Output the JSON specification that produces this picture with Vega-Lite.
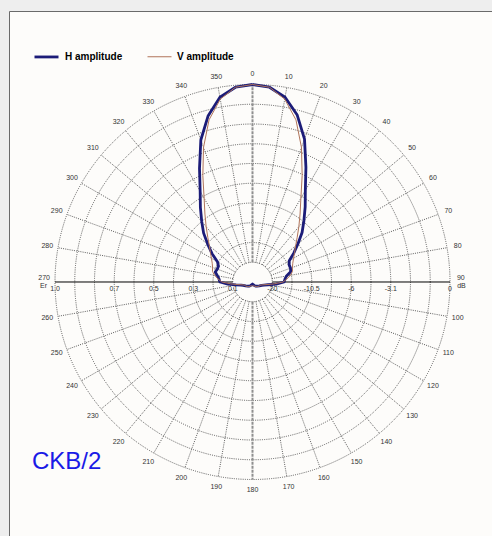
{
  "$schema": "https://vega.github.io/schema/vega-lite/v6.json",
  "width": 483,
  "height": 525,
  "autosize": {"type": "none"},
  "padding": {"left": 9, "top": 11, "right": 0, "bottom": 0},
  "background": "#eeeeee",
  "config": {
    "view": {"fill": "#fdfcfa", "stroke": "#6a6a6a", "strokeWidth": 1},
    "text": {"font": "Liberation Sans"}
  },
  "datasets": {
    "rings": [{"amp": 0.1}, {"amp": 0.2}, {"amp": 0.3}, {"amp": 0.4}, {"amp": 0.5}, {"amp": 0.6}, {"amp": 0.7}, {"amp": 0.8}, {"amp": 0.9}, {"amp": 1.0}],
    "spokes": [{"angle": 0}, {"angle": 10}, {"angle": 20}, {"angle": 30}, {"angle": 40}, {"angle": 50}, {"angle": 60}, {"angle": 70}, {"angle": 80}, {"angle": 90}, {"angle": 100}, {"angle": 110}, {"angle": 120}, {"angle": 130}, {"angle": 140}, {"angle": 150}, {"angle": 160}, {"angle": 170}, {"angle": 180}, {"angle": 190}, {"angle": 200}, {"angle": 210}, {"angle": 220}, {"angle": 230}, {"angle": 240}, {"angle": 250}, {"angle": 260}, {"angle": 270}, {"angle": 280}, {"angle": 290}, {"angle": 300}, {"angle": 310}, {"angle": 320}, {"angle": 330}, {"angle": 340}, {"angle": 350}],
    "radlabels": [
      {"label": "1.0", "pos": -1.0}, {"label": "0.7", "pos": -0.7}, {"label": "0.5", "pos": -0.5}, {"label": "0.3", "pos": -0.3}, {"label": "0.1", "pos": -0.1},
      {"label": "-20", "pos": 0.1}, {"label": "-10.5", "pos": 0.3}, {"label": "-6", "pos": 0.5}, {"label": "-3.1", "pos": 0.7}, {"label": "0", "pos": 1.0}
    ],
    "units": [{"unit": "Er", "side": -1}, {"unit": "dB", "side": 1}],
    "pattern": [
      {"series": "H amplitude", "angle": 0, "amp": 1.0},
      {"series": "H amplitude", "angle": 5, "amp": 0.99},
      {"series": "H amplitude", "angle": 10, "amp": 0.95},
      {"series": "H amplitude", "angle": 15, "amp": 0.875},
      {"series": "H amplitude", "angle": 20, "amp": 0.77},
      {"series": "H amplitude", "angle": 25, "amp": 0.64},
      {"series": "H amplitude", "angle": 30, "amp": 0.535},
      {"series": "H amplitude", "angle": 35, "amp": 0.465},
      {"series": "H amplitude", "angle": 40, "amp": 0.405},
      {"series": "H amplitude", "angle": 45, "amp": 0.355},
      {"series": "H amplitude", "angle": 50, "amp": 0.30},
      {"series": "H amplitude", "angle": 55, "amp": 0.255},
      {"series": "H amplitude", "angle": 60, "amp": 0.215},
      {"series": "H amplitude", "angle": 65, "amp": 0.205},
      {"series": "H amplitude", "angle": 70, "amp": 0.205},
      {"series": "H amplitude", "angle": 75, "amp": 0.20},
      {"series": "H amplitude", "angle": 80, "amp": 0.175},
      {"series": "H amplitude", "angle": 85, "amp": 0.165},
      {"series": "H amplitude", "angle": 90, "amp": 0.16},
      {"series": "H amplitude", "angle": 95, "amp": 0.12},
      {"series": "H amplitude", "angle": 100, "amp": 0.08},
      {"series": "H amplitude", "angle": 105, "amp": 0.06},
      {"series": "H amplitude", "angle": 110, "amp": 0.05},
      {"series": "H amplitude", "angle": 120, "amp": 0.04},
      {"series": "H amplitude", "angle": 130, "amp": 0.032},
      {"series": "H amplitude", "angle": 140, "amp": 0.028},
      {"series": "H amplitude", "angle": 150, "amp": 0.022},
      {"series": "H amplitude", "angle": 160, "amp": 0.015},
      {"series": "H amplitude", "angle": 170, "amp": 0.012},
      {"series": "H amplitude", "angle": 180, "amp": 0.01},
      {"series": "H amplitude", "angle": 190, "amp": 0.012},
      {"series": "H amplitude", "angle": 200, "amp": 0.015},
      {"series": "H amplitude", "angle": 210, "amp": 0.022},
      {"series": "H amplitude", "angle": 220, "amp": 0.028},
      {"series": "H amplitude", "angle": 230, "amp": 0.032},
      {"series": "H amplitude", "angle": 240, "amp": 0.04},
      {"series": "H amplitude", "angle": 250, "amp": 0.05},
      {"series": "H amplitude", "angle": 255, "amp": 0.06},
      {"series": "H amplitude", "angle": 260, "amp": 0.085},
      {"series": "H amplitude", "angle": 265, "amp": 0.125},
      {"series": "H amplitude", "angle": 270, "amp": 0.165},
      {"series": "H amplitude", "angle": 275, "amp": 0.17},
      {"series": "H amplitude", "angle": 280, "amp": 0.18},
      {"series": "H amplitude", "angle": 285, "amp": 0.195},
      {"series": "H amplitude", "angle": 290, "amp": 0.19},
      {"series": "H amplitude", "angle": 295, "amp": 0.19},
      {"series": "H amplitude", "angle": 300, "amp": 0.205},
      {"series": "H amplitude", "angle": 305, "amp": 0.25},
      {"series": "H amplitude", "angle": 310, "amp": 0.295},
      {"series": "H amplitude", "angle": 315, "amp": 0.35},
      {"series": "H amplitude", "angle": 320, "amp": 0.40},
      {"series": "H amplitude", "angle": 325, "amp": 0.46},
      {"series": "H amplitude", "angle": 330, "amp": 0.53},
      {"series": "H amplitude", "angle": 335, "amp": 0.635},
      {"series": "H amplitude", "angle": 340, "amp": 0.765},
      {"series": "H amplitude", "angle": 345, "amp": 0.87},
      {"series": "H amplitude", "angle": 350, "amp": 0.95},
      {"series": "H amplitude", "angle": 355, "amp": 0.99},
      {"series": "H amplitude", "angle": 360, "amp": 1.0},
      {"series": "V amplitude", "angle": 0, "amp": 1.0},
      {"series": "V amplitude", "angle": 5, "amp": 0.99},
      {"series": "V amplitude", "angle": 10, "amp": 0.94},
      {"series": "V amplitude", "angle": 15, "amp": 0.85},
      {"series": "V amplitude", "angle": 20, "amp": 0.725},
      {"series": "V amplitude", "angle": 25, "amp": 0.595},
      {"series": "V amplitude", "angle": 30, "amp": 0.49},
      {"series": "V amplitude", "angle": 35, "amp": 0.42},
      {"series": "V amplitude", "angle": 40, "amp": 0.365},
      {"series": "V amplitude", "angle": 45, "amp": 0.32},
      {"series": "V amplitude", "angle": 50, "amp": 0.285},
      {"series": "V amplitude", "angle": 55, "amp": 0.26},
      {"series": "V amplitude", "angle": 60, "amp": 0.24},
      {"series": "V amplitude", "angle": 65, "amp": 0.225},
      {"series": "V amplitude", "angle": 70, "amp": 0.215},
      {"series": "V amplitude", "angle": 75, "amp": 0.21},
      {"series": "V amplitude", "angle": 80, "amp": 0.195},
      {"series": "V amplitude", "angle": 85, "amp": 0.175},
      {"series": "V amplitude", "angle": 90, "amp": 0.155},
      {"series": "V amplitude", "angle": 95, "amp": 0.11},
      {"series": "V amplitude", "angle": 100, "amp": 0.075},
      {"series": "V amplitude", "angle": 105, "amp": 0.055},
      {"series": "V amplitude", "angle": 110, "amp": 0.045},
      {"series": "V amplitude", "angle": 120, "amp": 0.04},
      {"series": "V amplitude", "angle": 130, "amp": 0.035},
      {"series": "V amplitude", "angle": 140, "amp": 0.03},
      {"series": "V amplitude", "angle": 150, "amp": 0.025},
      {"series": "V amplitude", "angle": 160, "amp": 0.02},
      {"series": "V amplitude", "angle": 170, "amp": 0.02},
      {"series": "V amplitude", "angle": 180, "amp": 0.02},
      {"series": "V amplitude", "angle": 190, "amp": 0.02},
      {"series": "V amplitude", "angle": 200, "amp": 0.02},
      {"series": "V amplitude", "angle": 210, "amp": 0.025},
      {"series": "V amplitude", "angle": 220, "amp": 0.03},
      {"series": "V amplitude", "angle": 230, "amp": 0.035},
      {"series": "V amplitude", "angle": 240, "amp": 0.04},
      {"series": "V amplitude", "angle": 250, "amp": 0.045},
      {"series": "V amplitude", "angle": 255, "amp": 0.055},
      {"series": "V amplitude", "angle": 260, "amp": 0.075},
      {"series": "V amplitude", "angle": 265, "amp": 0.11},
      {"series": "V amplitude", "angle": 270, "amp": 0.155},
      {"series": "V amplitude", "angle": 275, "amp": 0.175},
      {"series": "V amplitude", "angle": 280, "amp": 0.195},
      {"series": "V amplitude", "angle": 285, "amp": 0.21},
      {"series": "V amplitude", "angle": 290, "amp": 0.215},
      {"series": "V amplitude", "angle": 295, "amp": 0.225},
      {"series": "V amplitude", "angle": 300, "amp": 0.24},
      {"series": "V amplitude", "angle": 305, "amp": 0.26},
      {"series": "V amplitude", "angle": 310, "amp": 0.285},
      {"series": "V amplitude", "angle": 315, "amp": 0.32},
      {"series": "V amplitude", "angle": 320, "amp": 0.365},
      {"series": "V amplitude", "angle": 325, "amp": 0.42},
      {"series": "V amplitude", "angle": 330, "amp": 0.49},
      {"series": "V amplitude", "angle": 335, "amp": 0.595},
      {"series": "V amplitude", "angle": 340, "amp": 0.725},
      {"series": "V amplitude", "angle": 345, "amp": 0.85},
      {"series": "V amplitude", "angle": 350, "amp": 0.94},
      {"series": "V amplitude", "angle": 355, "amp": 0.99},
      {"series": "V amplitude", "angle": 360, "amp": 1.0}
    ],
    "caption": [{"name": "CKB/2"}]
  },
  "layer": [
    {
      "data": {"name": "rings"},
      "mark": {"type": "point", "shape": "circle", "filled": false, "stroke": "#4a4a4a", "strokeWidth": 0.9, "strokeDash": [1, 1.2], "opacity": 1},
      "encoding": {
        "x": {"datum": 0, "type": "quantitative", "scale": {"domain": [-1.23291, 1.21266], "nice": false, "zero": false}, "axis": null},
        "y": {"datum": 0, "type": "quantitative", "scale": {"domain": [-1.28608, 1.37215], "nice": false, "zero": false}, "axis": null},
        "size": {"field": "amp", "type": "quantitative", "scale": {"type": "pow", "exponent": 2, "domain": [0, 1], "range": [0, 156025]}, "legend": null}
      }
    },
    {
      "data": {"name": "spokes"},
      "transform": [
        {"filter": "datum.angle % 90 != 0"},
        {"calculate": "0.1*sin(datum.angle*PI/180)", "as": "x1"},
        {"calculate": "0.1*cos(datum.angle*PI/180)", "as": "y1"},
        {"calculate": "sin(datum.angle*PI/180)", "as": "x2"},
        {"calculate": "cos(datum.angle*PI/180)", "as": "y2"}
      ],
      "mark": {"type": "rule", "stroke": "#4a4a4a", "strokeWidth": 0.9, "strokeDash": [1, 1.2]},
      "encoding": {
        "x": {"field": "x1", "type": "quantitative", "scale": {"domain": [-1.23291, 1.21266], "nice": false, "zero": false}, "axis": null},
        "y": {"field": "y1", "type": "quantitative", "scale": {"domain": [-1.28608, 1.37215], "nice": false, "zero": false}, "axis": null},
        "x2": {"field": "x2"},
        "y2": {"field": "y2"}
      }
    },
    {
      "data": {"name": "spokes"},
      "transform": [
        {"filter": "datum.angle == 0 || datum.angle == 180"},
        {"calculate": "0.1*sin(datum.angle*PI/180)", "as": "x1"},
        {"calculate": "0.1*cos(datum.angle*PI/180)", "as": "y1"},
        {"calculate": "sin(datum.angle*PI/180)", "as": "x2"},
        {"calculate": "cos(datum.angle*PI/180)", "as": "y2"}
      ],
      "mark": {"type": "rule", "stroke": "#8f8f8f", "strokeWidth": 2, "strokeDash": [3, 1]},
      "encoding": {
        "x": {"field": "x1", "type": "quantitative", "scale": {"domain": [-1.23291, 1.21266], "nice": false, "zero": false}, "axis": null},
        "y": {"field": "y1", "type": "quantitative", "scale": {"domain": [-1.28608, 1.37215], "nice": false, "zero": false}, "axis": null},
        "x2": {"field": "x2"},
        "y2": {"field": "y2"}
      }
    },
    {
      "data": {"name": "spokes"},
      "transform": [
        {"filter": "datum.angle == 90 || datum.angle == 270"},
        {"calculate": "0.1*sin(datum.angle*PI/180)", "as": "x1"},
        {"calculate": "sin(datum.angle*PI/180)", "as": "x2"}
      ],
      "mark": {"type": "rule", "stroke": "#000000", "strokeWidth": 1},
      "encoding": {
        "x": {"field": "x1", "type": "quantitative", "scale": {"domain": [-1.23291, 1.21266], "nice": false, "zero": false}, "axis": null},
        "y": {"datum": 0, "type": "quantitative", "scale": {"domain": [-1.28608, 1.37215], "nice": false, "zero": false}, "axis": null},
        "x2": {"field": "x2"}
      }
    },
    {
      "data": {"name": "spokes"},
      "transform": [
        {"filter": "datum.angle != 90 && datum.angle != 270"},
        {"calculate": "1.055*sin(datum.angle*PI/180)", "as": "lx"},
        {"calculate": "1.055*cos(datum.angle*PI/180)", "as": "ly"}
      ],
      "mark": {"type": "text", "fontSize": 7, "fill": "#333333", "align": "center", "baseline": "middle"},
      "encoding": {
        "x": {"field": "lx", "type": "quantitative", "scale": {"domain": [-1.23291, 1.21266], "nice": false, "zero": false}, "axis": null},
        "y": {"field": "ly", "type": "quantitative", "scale": {"domain": [-1.28608, 1.37215], "nice": false, "zero": false}, "axis": null},
        "text": {"field": "angle", "type": "quantitative"}
      }
    },
    {
      "data": {"name": "spokes"},
      "transform": [
        {"filter": "datum.angle == 90 || datum.angle == 270"},
        {"calculate": "1.055*sin(datum.angle*PI/180)", "as": "lx"}
      ],
      "mark": {"type": "text", "fontSize": 7, "fill": "#333333", "align": "center", "baseline": "middle", "dy": -4},
      "encoding": {
        "x": {"field": "lx", "type": "quantitative", "scale": {"domain": [-1.23291, 1.21266], "nice": false, "zero": false}, "axis": null},
        "y": {"datum": 0, "type": "quantitative", "scale": {"domain": [-1.28608, 1.37215], "nice": false, "zero": false}, "axis": null},
        "text": {"field": "angle", "type": "quantitative"}
      }
    },
    {
      "data": {"name": "units"},
      "transform": [{"calculate": "1.058*datum.side", "as": "lx"}],
      "mark": {"type": "text", "fontSize": 7, "fill": "#333333", "align": "center", "baseline": "middle", "dy": 4},
      "encoding": {
        "x": {"field": "lx", "type": "quantitative", "scale": {"domain": [-1.23291, 1.21266], "nice": false, "zero": false}, "axis": null},
        "y": {"datum": 0, "type": "quantitative", "scale": {"domain": [-1.28608, 1.37215], "nice": false, "zero": false}, "axis": null},
        "text": {"field": "unit"}
      }
    },
    {
      "data": {"name": "radlabels"},
      "mark": {"type": "text", "fontSize": 7, "fill": "#333333", "align": "center", "baseline": "middle", "dy": 7},
      "encoding": {
        "x": {"field": "pos", "type": "quantitative", "scale": {"domain": [-1.23291, 1.21266], "nice": false, "zero": false}, "axis": null},
        "y": {"datum": 0, "type": "quantitative", "scale": {"domain": [-1.28608, 1.37215], "nice": false, "zero": false}, "axis": null},
        "text": {"field": "label"}
      }
    },
    {
      "data": {"name": "pattern"},
      "transform": [
        {"calculate": "datum.amp*sin(datum.angle*PI/180)", "as": "px"},
        {"calculate": "datum.amp*cos(datum.angle*PI/180)", "as": "py"}
      ],
      "mark": {"type": "line", "strokeJoin": "round"},
      "encoding": {
        "x": {"field": "px", "type": "quantitative", "scale": {"domain": [-1.23291, 1.21266], "nice": false, "zero": false}, "axis": null},
        "y": {"field": "py", "type": "quantitative", "scale": {"domain": [-1.28608, 1.37215], "nice": false, "zero": false}, "axis": null},
        "order": {"field": "angle", "type": "quantitative"},
        "color": {"field": "series", "type": "nominal", "scale": {"domain": ["H amplitude", "V amplitude"], "range": ["#1c1c78", "#b0745a"]},
          "legend": {"orient": "none", "legendX": 24, "legendY": 32, "direction": "horizontal", "title": null, "labelFont": "Liberation Sans", "labelFontSize": 10, "labelFontWeight": "bold", "labelColor": "#000000", "symbolType": "stroke", "symbolSize": 576, "labelOffset": 5, "columnPadding": 22}},
        "strokeWidth": {"field": "series", "type": "nominal", "scale": {"domain": ["H amplitude", "V amplitude"], "range": [2.8, 1]},
          "legend": {"orient": "none", "legendX": 24, "legendY": 32, "direction": "horizontal", "title": null, "labelFont": "Liberation Sans", "labelFontSize": 10, "labelFontWeight": "bold", "labelColor": "#000000", "symbolType": "stroke", "symbolSize": 576, "labelOffset": 5, "columnPadding": 22}}
      }
    },
    {
      "data": {"name": "caption"},
      "mark": {"type": "text", "fontSize": 24, "fill": "#1a1ae6", "align": "left", "baseline": "middle"},
      "encoding": {
        "x": {"datum": -1.1165, "type": "quantitative", "scale": {"domain": [-1.23291, 1.21266], "nice": false, "zero": false}, "axis": null},
        "y": {"datum": -0.911, "type": "quantitative", "scale": {"domain": [-1.28608, 1.37215], "nice": false, "zero": false}, "axis": null},
        "text": {"field": "name"}
      }
    }
  ]
}
